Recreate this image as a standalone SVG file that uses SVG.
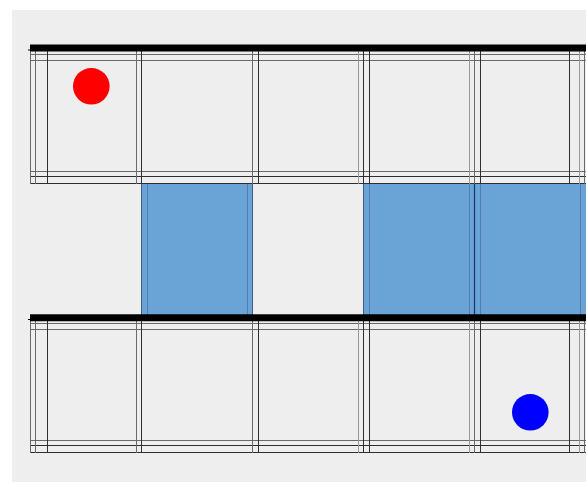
<svg xmlns="http://www.w3.org/2000/svg" width="586" height="482" viewBox="0 0 586 482">
<style>
.d{stroke:#2e2e2e;stroke-width:1}
.g{stroke:#6a6a6a;stroke-width:1}
.l{stroke:#999999;stroke-width:1}
.wall{stroke:#000;stroke-width:7}
.blue{fill:#6aa4d6}
.bi{stroke:#4f7fae;stroke-width:1}
.be{stroke:#3d5f85;stroke-width:1}
</style>
<defs>
<g id="row">
<line class="g" x1="30.5" y1="54.5" x2="586" y2="54.5"/>
<line class="g" x1="30.5" y1="60.5" x2="586" y2="60.5"/>
<line class="g" x1="30.5" y1="171.5" x2="586" y2="171.5"/>
<line class="d" x1="30.5" y1="176.5" x2="586" y2="176.5"/>
<line class="d" x1="30.5" y1="183.5" x2="586" y2="183.5"/>
<line class="g" x1="30.5" y1="51" x2="30.5" y2="184"/>
<line class="g" x1="35.5" y1="51" x2="35.5" y2="184"/>
<line class="d" x1="47.5" y1="51" x2="47.5" y2="184"/>
<line class="g" x1="136.5" y1="51" x2="136.5" y2="184"/>
<line class="d" x1="141.5" y1="51" x2="141.5" y2="184"/>
<line class="g" x1="252.5" y1="51" x2="252.5" y2="184"/>
<line class="d" x1="258.5" y1="51" x2="258.5" y2="184"/>
<line class="l" x1="358.5" y1="51" x2="358.5" y2="184"/>
<line class="d" x1="363.5" y1="51" x2="363.5" y2="184"/>
<line class="d" x1="369.5" y1="51" x2="369.5" y2="184"/>
<line class="l" x1="469.5" y1="51" x2="469.5" y2="184"/>
<line class="g" x1="474.5" y1="51" x2="474.5" y2="184"/>
<line class="d" x1="480.5" y1="51" x2="480.5" y2="184"/>
<line class="d" x1="569.5" y1="51" x2="569.5" y2="184"/>
<line class="l" x1="579.5" y1="51" x2="579.5" y2="184"/>
<line class="g" x1="584.5" y1="51" x2="584.5" y2="184"/>
</g>
</defs>
<rect width="586" height="482" fill="#ffffff"/>
<rect x="12" y="10" width="574" height="472" fill="#eeeeee"/>
<g id="blue-cells">
<rect class="blue" x="141" y="183" width="112" height="134"/>
<rect class="blue" x="363" y="183" width="223" height="134"/>
<line class="be" x1="141.5" y1="183" x2="141.5" y2="317"/>
<line class="bi" x1="147.5" y1="183" x2="147.5" y2="317"/>
<line class="bi" x1="247.5" y1="183" x2="247.5" y2="317"/>
<line class="be" x1="252.5" y1="183" x2="252.5" y2="317"/>
<line class="be" x1="363.5" y1="183" x2="363.5" y2="317"/>
<line class="bi" x1="369.5" y1="183" x2="369.5" y2="317"/>
<line class="bi" x1="469.5" y1="183" x2="469.5" y2="317"/>
<line stroke="#1d3560" stroke-width="1.2" x1="474.5" y1="183" x2="474.5" y2="317"/>
<line class="bi" x1="480.5" y1="183" x2="480.5" y2="317"/>
<line class="bi" x1="580.5" y1="183" x2="580.5" y2="317"/>
<line stroke="#444" stroke-width="1" x1="141" y1="183.5" x2="253" y2="183.5"/>
<line stroke="#444" stroke-width="1" x1="363" y1="183.5" x2="586" y2="183.5"/>
</g>
<g id="top-row">
<use href="#row"/>
</g>
<g id="bottom-row">
<use href="#row" transform="translate(0,269)"/>
</g>
<g id="walls">
<line class="wall" x1="30" y1="48" x2="586" y2="48"/>
<rect x="28" y="49.5" width="2" height="1" fill="#000"/>
<line class="wall" x1="30" y1="317.75" x2="586" y2="317.75"/>
<rect x="28" y="319" width="2" height="1" fill="#000"/>
</g>
<g id="agents">
<circle id="red-agent" cx="91.3" cy="86.3" r="18.3" fill="#ff0000"/>
<circle id="blue-agent" cx="530.3" cy="412.3" r="18.3" fill="#0000ff"/>
</g>
</svg>
